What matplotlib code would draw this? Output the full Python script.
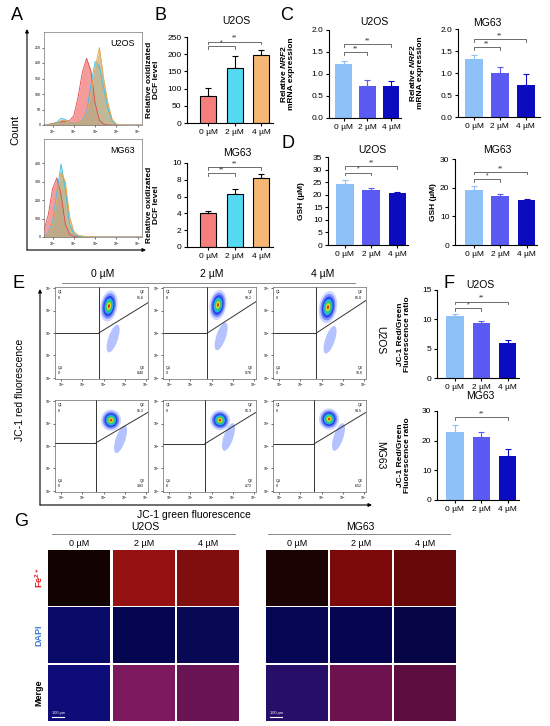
import matplotlib
matplotlib.use("Agg")
import matplotlib.pyplot as plt
import numpy as np
from matplotlib.patches import Ellipse

plt.rcParams['font.family'] = ['Liberation Sans', 'DejaVu Sans']
plt.rcParams['mathtext.fontset'] = 'custom'
plt.rcParams['mathtext.rm'] = 'Liberation Sans:bold'
plt.rcParams['mathtext.it'] = 'Liberation Sans:italic:bold'
plt.rcParams['mathtext.bf'] = 'Liberation Sans:bold'

W, H = 550, 726

# ---------------- data ----------------
doses = ["0 µM", "2 µM", "4 µM"]

# A: flow histograms (log10 fluorescence bins)
hist_x = [-0.4, -0.2, 0.0, 0.2, 0.4, 0.6, 0.8, 1.0, 1.2, 1.4, 1.6, 1.8,
          2.0, 2.2, 2.4, 2.6, 2.8, 3.0, 3.2, 3.4, 3.6, 3.8, 4.0, 4.2]
u2os_red =    [0, 2, 5, 8, 10, 12, 14, 30, 90, 170, 215, 175, 70, 15, 3, 0, 0, 0, 0, 0, 0, 0, 0, 0]
u2os_cyan =   [0, 1, 4, 8, 22, 18, 8, 6, 8, 15, 40, 130, 205, 190, 120, 55, 12, 2, 0, 0, 0, 0, 0, 0]
u2os_orange = [0, 1, 3, 5, 14, 15, 8, 6, 8, 12, 30, 100, 185, 250, 150, 70, 18, 3, 1, 0, 0, 0, 0, 0]
mg63_red =    [40, 120, 260, 320, 230, 70, 15, 3, 1, 0, 0, 0, 0, 0, 0, 0, 0, 0, 0, 0, 0, 0, 0, 0]
mg63_cyan =   [5, 20, 80, 240, 395, 260, 70, 15, 5, 2, 1, 0, 0, 0, 0, 0, 0, 0, 0, 0, 0, 0, 0, 0]
mg63_orange = [5, 15, 60, 200, 350, 300, 110, 30, 10, 5, 3, 2, 1, 0, 0, 0, 0, 0, 0, 0, 0, 0, 0, 0]

# B: DCF
dcf_u2os = [78, 160, 198]
dcf_u2os_err = [24, 35, 15]
dcf_mg63 = [4.0, 6.3, 8.2]
dcf_mg63_err = [0.3, 0.55, 0.45]

# C: NRF2 mRNA
nrf2_u2os = [1.23, 0.72, 0.72]
nrf2_u2os_err = [0.06, 0.15, 0.13]
nrf2_mg63 = [1.31, 0.99, 0.72]
nrf2_mg63_err = [0.1, 0.15, 0.25]

# D: GSH
gsh_u2os = [24.3, 21.9, 20.6]
gsh_u2os_err = [1.5, 0.9, 0.4]
gsh_mg63 = [19.2, 17.0, 15.6]
gsh_mg63_err = [1.4, 0.8, 0.3]

# F: JC-1 ratio
jc1_u2os = [10.5, 9.4, 6.0]
jc1_u2os_err = [0.35, 0.35, 0.5]
jc1_mg63 = [22.9, 21.2, 14.9]
jc1_mg63_err = [2.5, 1.7, 2.3]

# E: quadrant percentages
q2_labels = [["91.6", "90.2", "85.0"], ["96.2", "95.3", "93.5"]]
q3_labels = [["8.40", "9.76", "15.0"], ["3.83", "4.72", "6.52"]]
# cluster centre / size (log decades) and gate positions
clus_x = [[2.25, 2.3, 2.3], [2.35, 2.4, 2.35]]
clus_y = [[3.2, 3.25, 3.15], [3.15, 3.15, 3.2]]
clus_w = [[0.8, 0.8, 0.85], [0.95, 0.95, 0.95]]
clus_h = [[1.4, 1.35, 1.45], [0.95, 0.9, 0.95]]
tail_x = [[2.45, 2.45, 2.4], [2.8, 2.8, 2.8]]
tail_y = [[1.75, 1.85, 1.7], [2.3, 2.4, 2.4]]
gate_x = [[1.77, 1.8, 1.75], [1.65, 1.68, 1.65]]
gate_y = [[2.0, 2.0, 2.0], [2.15, 2.1, 2.1]]
gate_end = [[3.35, 3.4, 3.45], [3.5, 3.5, 3.5]]

# G: mean colour of each micrograph (rows: Fe2+, DAPI, Merge)
img_u2os = [[(18, 2, 2), (150, 18, 18), (128, 14, 14)],
            [(10, 10, 105), (6, 6, 80), (8, 8, 85)],
            [(14, 12, 120), (125, 25, 95), (105, 20, 85)]]
img_mg63 = [[(28, 3, 3), (125, 10, 10), (105, 8, 8)],
            [(6, 6, 85), (6, 6, 80), (5, 5, 70)],
            [(38, 14, 105), (110, 18, 80), (92, 12, 62)]]

red_cols = ['#F67E7C', '#55D9F3', '#F6B674']
blue_cols = ['#8EC1F7', '#5B5BF4', '#0B0BBF']

fig = plt.figure(figsize=(5.5, 7.26), dpi=100)


def rect(l, t, r, b):
    return [l / W, 1 - b / H, (r - l) / W, (b - t) / H]


ov = fig.add_axes([0, 0, 1, 1], zorder=10)
ov.set_xlim(0, W)
ov.set_ylim(H, 0)
ov.axis('off')
ov.patch.set_alpha(0)


def txt(x, y, s, size=7, **kw):
    ov.text(x, y, s, fontsize=size, ha=kw.pop('ha', 'center'), va=kw.pop('va', 'center'), **kw)


def arrow(x0, y0, x1, y1):
    ov.annotate('', xy=(x1, y1), xytext=(x0, y0),
                arrowprops=dict(arrowstyle='-|>', lw=0.8, color='black',
                                mutation_scale=5, shrinkA=0, shrinkB=0))


def bar_panel(l, t, r, b, xlim, vals, errs, colors, ylim, yticks, ylabel, lab_x,
              brackets, width=0.68, edge=False):
    ax = fig.add_axes(rect(l, t, r, b))
    x = np.arange(3)
    if edge:
        ax.bar(x, vals, width, color=colors, edgecolor='black', linewidth=0.8, zorder=2)
        ax.errorbar(x, vals, yerr=[[0, 0, 0], errs], fmt='none', ecolor='black',
                    elinewidth=0.8, capsize=2.5, capthick=0.8, zorder=1)
    else:
        ax.bar(x, vals, width, color=colors, zorder=2)
        for i in range(3):
            ax.errorbar(x[i], vals[i], yerr=[[0], [errs[i]]], fmt='none', ecolor=colors[i],
                        elinewidth=0.8, capsize=2.5, capthick=0.8, zorder=1)
    ax.set_xlim(*xlim)
    ax.set_ylim(*ylim)
    ax.set_yticks(yticks)
    ax.set_xticks(x)
    ax.set_xticklabels(doses)
    for s in ['top', 'right']:
        ax.spines[s].set_visible(False)
    for s in ['left', 'bottom']:
        ax.spines[s].set_linewidth(0.8)
    ax.tick_params(labelsize=6, length=2.5, width=0.8, pad=1.5)
    ax.set_ylabel(ylabel, fontsize=6, fontweight='bold', linespacing=1.0)
    ax.yaxis.set_label_coords((lab_x - l) / (r - l), 0.5)
    ax.patch.set_alpha(0)
    d = (ylim[1] - ylim[0]) * 0.03
    for i, j, y, s in brackets:
        ax.plot([i, i, j, j], [y - d, y, y, y - d], color='#555555', lw=0.6, clip_on=False)
        ax.text((i + j) / 2, y, s, fontsize=5, ha='center', va='bottom', color='#333333')
    return ax


# ---------------- A ----------------
txt(17, 16, 'A', 13)
hist_sets = [(rect(44, 32, 142, 125), (0, 300), [0, 50, 100, 150, 200, 250],
              u2os_red, u2os_cyan, u2os_orange, 'U2OS'),
             (rect(44, 139, 142, 237), (0, 530), [0, 100, 200, 300, 400],
              mg63_red, mg63_cyan, mg63_orange, 'MG63')]
for pos, yl, yt, rd, cy, og, name in hist_sets:
    ax = fig.add_axes(pos)
    ax.fill_between(hist_x, rd, color='#F27A7A', alpha=0.75, lw=0)
    ax.plot(hist_x, rd, color='#E04848', lw=0.6)
    ax.fill_between(hist_x, cy, color='#7FC9E0', alpha=0.6, lw=0)
    ax.plot(hist_x, cy, color='#35C3EE', lw=0.6)
    ax.fill_between(hist_x, og, color='#C8A46A', alpha=0.65, lw=0)
    ax.plot(hist_x, og, color='#E8A848', lw=0.6)
    ax.set_xlim(-0.4, 4.2)
    ax.set_ylim(*yl)
    ax.set_xticks([0, 1, 2, 3, 4])
    ax.set_xticklabels(['10$^{%d}$' % k for k in range(5)])
    ax.set_yticks(yt)
    ax.tick_params(labelsize=2.5, length=1.5, width=0.4, pad=1)
    for s in ax.spines.values():
        s.set_linewidth(0.5)
        s.set_color('#777777')
    ax.text(0.93, 0.88, name, transform=ax.transAxes, fontsize=6.5, ha='right', va='center')
arrow(27, 250, 27, 29)
arrow(27, 250, 146, 250)
txt(15, 130, 'Count', 8, rotation=90)

# ---------------- B ----------------
txt(160, 16, 'B', 13)
bar_panel(187, 37, 273, 123, (-0.8, 2.45), dcf_u2os, dcf_u2os_err, red_cols,
          (0, 250), [0, 50, 100, 150, 200, 250], 'Relative oxidizated\nDCF level', 160,
          [(0, 1, 224, '*'), (0, 2, 236, '**')], width=0.6, edge=True)
bar_panel(187, 163, 273, 247, (-0.8, 2.45), dcf_mg63, dcf_mg63_err, red_cols,
          (0, 10), [0, 2, 4, 6, 8, 10], 'Relative oxidizated\nDCF level', 160,
          [(0, 1, 8.8, '**'), (0, 2, 9.5, '**')], width=0.6, edge=True)
txt(236, 21, 'U2OS', 7.5)
txt(237, 153, 'MG63', 7.5)

# ---------------- C ----------------
txt(287, 15, 'C', 13)
bar_panel(329, 30, 401, 118, (-0.62, 2.42), nrf2_u2os, nrf2_u2os_err, blue_cols,
          (0, 2), [0, 0.5, 1.0, 1.5, 2.0], 'Relative $\\mathit{NRF2}$\nmRNA expression', 295,
          [(0, 1, 1.5, '**'), (0, 2, 1.68, '**')], width=0.7)
bar_panel(458, 29, 540, 117, (-0.62, 2.55), nrf2_mg63, nrf2_mg63_err, blue_cols,
          (0, 2), [0, 0.5, 1.0, 1.5, 2.0], 'Relative $\\mathit{NRF2}$\nmRNA expression', 424,
          [(0, 1, 1.59, '**'), (0, 2, 1.77, '**')], width=0.7)
txt(374, 22, 'U2OS', 7.5)
txt(487, 23, 'MG63', 7.5)

# ---------------- D ----------------
txt(288, 143, 'D', 13)
bar_panel(328, 157, 408, 245, (-0.64, 2.4), gsh_u2os, gsh_u2os_err, blue_cols,
          (0, 35), [0, 5, 10, 15, 20, 25, 30, 35], 'GSH (µM)', 305,
          [(0, 1, 28.7, '*'), (0, 2, 31.4, '**')], width=0.68)
bar_panel(455, 159, 537, 245, (-0.73, 2.4), gsh_mg63, gsh_mg63_err, blue_cols,
          (0, 30), [0, 10, 20, 30], 'GSH (µM)', 437,
          [(0, 1, 23, '*'), (0, 2, 25.5, '**')], width=0.68)
txt(372, 150, 'U2OS', 7.5)
txt(497, 150, 'MG63', 7.5)

# ---------------- E ----------------
txt(18, 284, 'E', 13)
col_left = [55, 163, 273]
row_top = [287, 400]
layers = [(1.0, '#cdd6ff'), (0.82, '#7d8cff'), (0.66, '#2a46e6'), (0.5, '#22b4e4'),
          (0.36, '#38d05a'), (0.24, '#e6e024'), (0.13, '#e23a22')]
for r in range(2):
    for c in range(3):
        l, t = col_left[c], row_top[r]
        ax = fig.add_axes(rect(l, t, l + 93, t + 92))
        ax.set_xlim(-0.3, 4.1)
        ax.set_ylim(-0.05, 4.05)
        ax.add_patch(Ellipse((tail_x[r][c], tail_y[r][c]), 0.45, 1.3, angle=-20,
                             color='#b4c2ff', lw=0))
        for f, colr in layers:
            ax.add_patch(Ellipse((clus_x[r][c], clus_y[r][c]), clus_w[r][c] * f,
                                 clus_h[r][c] * f, angle=-10, color=colr, lw=0))
        gx, gy, ge = gate_x[r][c], gate_y[r][c], gate_end[r][c]
        ax.plot([-0.3, gx], [gy, gy], color='#333333', lw=0.7)
        ax.plot([gx, gx], [-0.05, 4.05], color='#333333', lw=0.7)
        ax.plot([gx, 4.1], [gy, ge], color='#333333', lw=0.7)
        ax.set_xticks([0, 1, 2, 3, 4])
        ax.set_yticks([0, 1, 2, 3, 4])
        ax.set_xticklabels(['10$^{%d}$' % k for k in range(5)])
        ax.set_yticklabels(['10$^{%d}$' % k for k in range(5)])
        ax.tick_params(labelsize=2.5, length=1.2, width=0.4, pad=0.8)
        for s in ax.spines.values():
            s.set_linewidth(0.5)
            s.set_color('#666666')
        kw = dict(transform=ax.transAxes, fontsize=2.6, linespacing=1.6)
        ax.text(0.03, 0.97, 'Q1\n0', ha='left', va='top', **kw)
        ax.text(0.96, 0.97, 'Q2\n' + q2_labels[r][c], ha='right', va='top', **kw)
        ax.text(0.96, 0.04, 'Q3\n' + q3_labels[r][c], ha='right', va='bottom', **kw)
        ax.text(0.03, 0.04, 'Q4\n0', ha='left', va='bottom', **kw)
for c, x in enumerate([103, 212, 323]):
    txt(x, 274, doses[c], 7.5)
ov.plot([62, 355], [283, 283], color='#888888', lw=0.7)
txt(380, 340, 'U2OS', 7.5, rotation=-90)
txt(380, 455, 'MG63', 7.5, rotation=-90)
arrow(40, 505, 40, 289)
arrow(40, 505, 372, 505)
txt(20, 390, 'JC-1 red fluorescence', 7.5, rotation=90)
txt(194, 515, 'JC-1 green fluorescence', 7.5)

# ---------------- F ----------------
txt(449, 284, 'F', 13)
bar_panel(437, 290, 519, 378, (-0.68, 2.42), jc1_u2os, jc1_u2os_err, blue_cols,
          (0, 15), [0, 5, 10, 15], 'JC-1 Red/Green\nFluorescence ratio', 411,
          [(0, 1, 11.9, '*'), (0, 2, 13.0, '**')], width=0.65)
bar_panel(437, 411, 519, 500, (-0.68, 2.42), jc1_mg63, jc1_mg63_err, blue_cols,
          (0, 30), [0, 10, 20, 30], 'JC-1 Red/Green\nFluorescence ratio', 411,
          [(0, 2, 28, '**')], width=0.65)
txt(480, 285, 'U2OS', 7.5)
txt(480, 396, 'MG63', 7.5)

# ---------------- G ----------------
txt(21, 522, 'G', 13)
img_cols = [[48, 113, 177], [266, 330, 394]]
img_rows = [550, 607, 665]
for g, (imgs, name, cx, lx) in enumerate([(img_u2os, 'U2OS', 145, (52, 235)),
                                           (img_mg63, 'MG63', 360, (268, 450))]):
    txt(cx, 527, name, 7.5)
    ov.plot(list(lx), [534, 534], color='#888888', lw=0.7)
    for c in range(3):
        x0 = img_cols[g][c]
        txt(x0 + 31, 543, doses[c], 6.5)
        for r in range(3):
            y0 = img_rows[r]
            ax = fig.add_axes(rect(x0, y0, x0 + 62, y0 + 56))
            ax.imshow(np.array([[imgs[r][c]]], dtype=np.uint8), aspect='auto')
            ax.set_xticks([])
            ax.set_yticks([])
            for s in ax.spines.values():
                s.set_visible(False)
    ov.plot([img_cols[g][0] + 4, img_cols[g][0] + 16], [717, 717], color='white', lw=0.8)
    txt(img_cols[g][0] + 4, 713, '100 µm', 2.8, color='white', ha='left')
txt(39, 578, 'Fe$^{2+}$', 6.5, rotation=90, color='#E8181C', fontweight='bold')
txt(39, 635, 'DAPI', 6.5, rotation=90, color='#3C78D8', fontweight='bold')
txt(39, 693, 'Merge', 6.5, rotation=90, color='black', fontweight='bold')

fig.savefig('out.png', dpi=100)
